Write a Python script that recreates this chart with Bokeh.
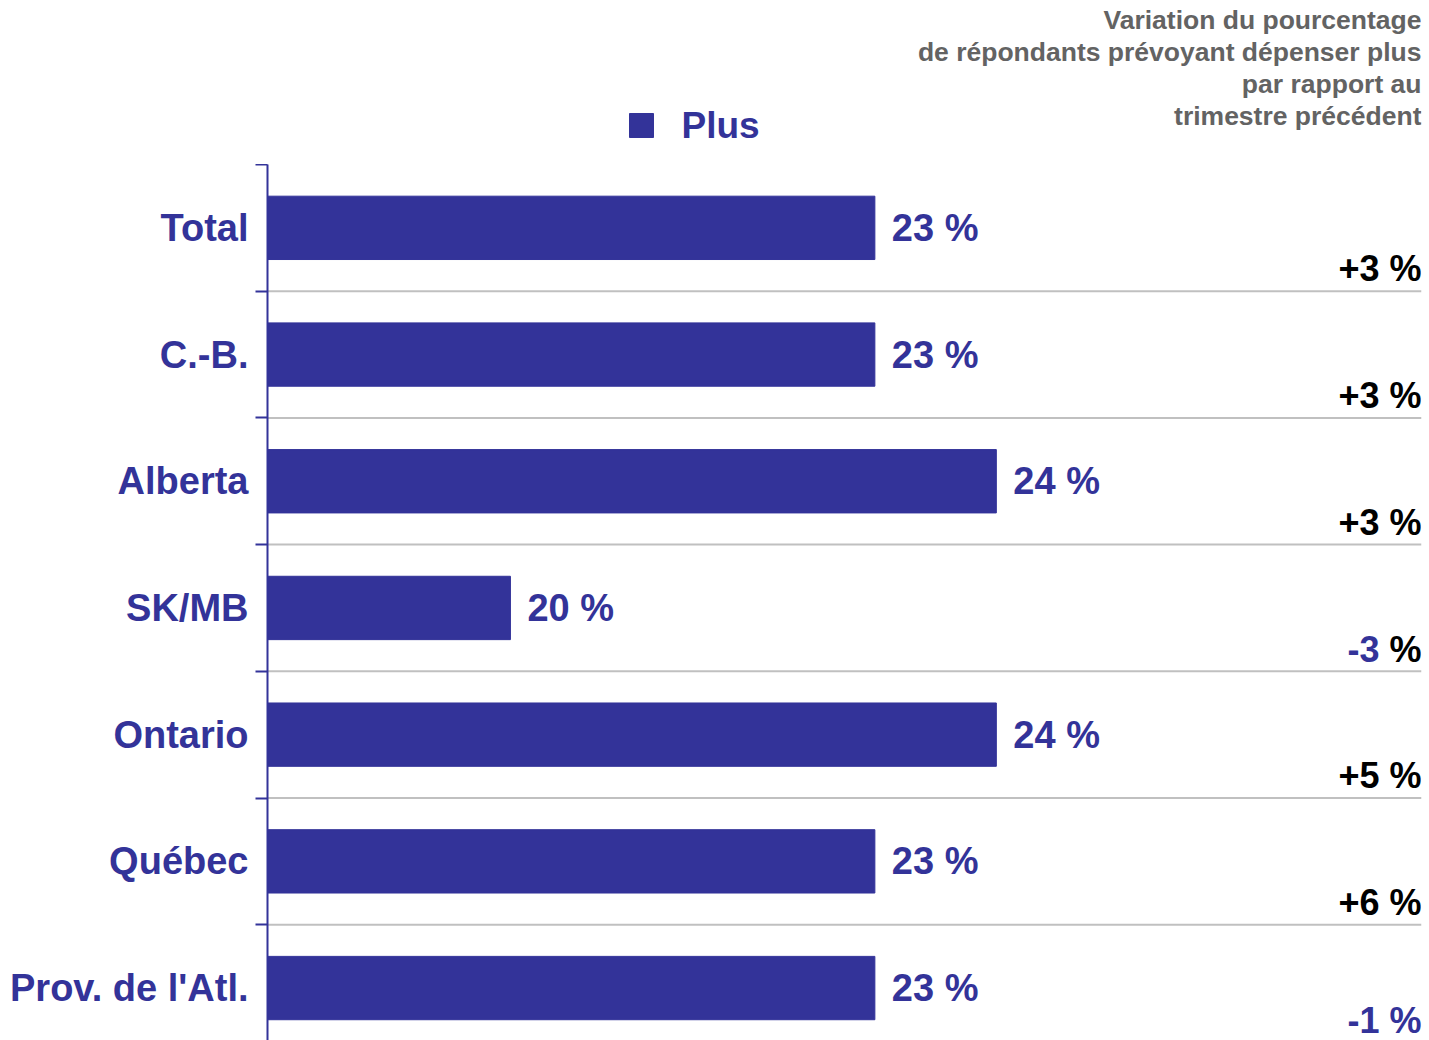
from bokeh.plotting import figure
from bokeh.layouts import column
from bokeh.models import Range1d, FixedTicker, ColumnDataSource
from bokeh.embed import file_html
from bokeh.resources import INLINE
from bokeh.core.properties import value

# ---------------- data ----------------
categories = ["Total", "C.-B.", "Alberta", "SK/MB", "Ontario", "Québec", "Prov. de l'Atl."]
plus_pct = [23, 23, 24, 20, 24, 23, 23]
change_pct = [3, 3, 3, -3, 5, 6, -1]
pct_sign_dark = [True, True, True, True, True, True, False]  # colour of the "%" sign in the change label
series_name = "Plus"
title_lines = [
    "Variation du pourcentage",
    "de répondants prévoyant dépenser plus",
    "par rapport au",
    "trimestre précédent",
]

# ---------------- style ----------------
BLUE = "#333399"
GRAY = "#636363"
SEP = "#c0c0c0"
FONT = "Liberation Sans"

W, H = 1429, 1040
HEAD = 164            # height of the header strip (title + legend)
LEFT, RIGHT = 267, 8  # frame margins of the bar chart
BAND = 126.7          # pixel height of one category band
X0, X1 = 18, 27.5
Y_TOP = -0.5
Y_BOT = Y_TOP + (H - HEAD) / BAND

n = len(categories)
ys = list(range(n))

# ---------------- header (title + legend) ----------------
head = figure(width=W, height=HEAD, x_range=Range1d(LEFT, W - RIGHT), y_range=Range1d(HEAD, 0),
              output_backend="svg", toolbar_location=None,
              x_axis_location=None, y_axis_location=None,
              min_border_left=LEFT, min_border_right=RIGHT, min_border_top=0, min_border_bottom=0)
head.outline_line_color = None
head.grid.visible = False

title_y = [19, 51, 83, 115]
head.text(x=[W - RIGHT] * len(title_lines), y=title_y, text=title_lines,
          text_align="right", text_baseline="middle", text_font=value(FONT),
          text_font_style="bold", text_font_size="26.5px", text_color=GRAY)
# legend key
head.rect(x=[641], y=[125], width=24, height=24, fill_color=BLUE, line_color=BLUE)
head.text(x=[681], y=[125], text=[series_name], text_align="left", text_baseline="middle",
          text_font=value(FONT), text_font_style="bold", text_font_size="37px",
          text_color=BLUE)

# ---------------- bar chart ----------------
p = figure(width=W, height=H - HEAD, x_range=Range1d(X0, X1), y_range=Range1d(Y_BOT, Y_TOP),
           output_backend="svg", toolbar_location=None, x_axis_location=None,
           min_border_left=LEFT, min_border_right=RIGHT, min_border_top=0, min_border_bottom=0)
p.outline_line_color = None
p.grid.visible = False

# separators
bounds = [i + 0.5 for i in range(n - 1)]
p.segment(x0=[X0] * len(bounds), x1=[X1] * len(bounds), y0=bounds, y1=bounds,
          line_color=SEP, line_width=2)

# bars
src = ColumnDataSource(dict(y=ys, right=plus_pct, txt=[f"{v} %" for v in plus_pct]))
p.hbar(y="y", left=X0, right="right", height=0.5, source=src,
       fill_color=BLUE, line_color=BLUE)
p.text(x="right", y="y", text="txt", source=src, x_offset=17, text_baseline="middle",
       text_align="left", text_font=value(FONT), text_font_style="bold",
       text_font_size="38px", text_color=BLUE)

# change labels
full_x, full_y, full_t, full_c = [], [], [], []
num_x, num_y, num_t, num_c = [], [], [], []
pc_x, pc_y, pc_c = [], [], []
for i, c in enumerate(change_pct):
    num = f"{c:+d}"
    num_color = BLUE if c < 0 else "black"
    pct_color = "black" if pct_sign_dark[i] else BLUE
    yy = min(i + 0.324, Y_BOT - 0.16)
    if num_color == pct_color:
        full_x.append(X1); full_y.append(yy); full_t.append(num + " %"); full_c.append(num_color)
    else:
        num_x.append(X1); num_y.append(yy); num_t.append(num); num_c.append(num_color)
        pc_x.append(X1); pc_y.append(yy); pc_c.append(pct_color)

common = dict(text_align="right", text_baseline="middle", text_font=value(FONT),
              text_font_style="bold", text_font_size="36px")
p.text(x=full_x, y=full_y, text=full_t, text_color=full_c, **common)
if num_t:
    p.text(x=num_x, y=num_y, text=num_t, text_color=num_c, x_offset=-42, **common)
    p.text(x=pc_x, y=pc_y, text=["%"] * len(pc_x), text_color=pc_c, **common)

# y axis
ax = p.yaxis[0]
ax.ticker = FixedTicker(ticks=ys, minor_ticks=[i - 0.5 for i in range(n + 1)])
ax.major_label_overrides = {i: c for i, c in zip(ys, categories)}
ax.major_label_text_font = FONT
ax.major_label_text_font_style = "bold"
ax.major_label_text_font_size = "38px"
ax.major_label_text_color = BLUE
ax.major_label_standoff = 7
ax.major_tick_out = 0
ax.major_tick_in = 0
ax.major_tick_line_color = None
ax.minor_tick_out = 12
ax.minor_tick_in = 0
ax.minor_tick_line_color = BLUE
ax.minor_tick_line_width = 2
ax.axis_line_color = BLUE
ax.axis_line_width = 2

layout = column(head, p, spacing=0)
open("out.html", "w").write(file_html(layout, INLINE))
